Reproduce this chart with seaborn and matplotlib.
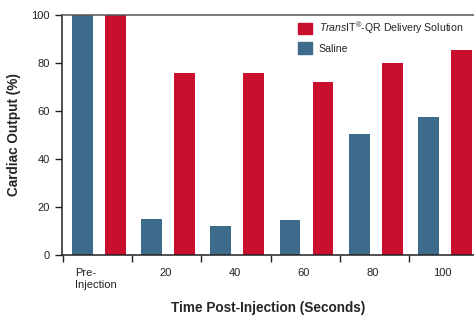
import numpy as np
import pandas as pd
import seaborn as sns
import matplotlib.pyplot as plt
from matplotlib.patches import Patch
from matplotlib.transforms import ScaledTranslation

# values
time_labels = ['Pre-\nInjection', '20', '40', '60', '80', '100']
saline = [100, 15, 12, 14.5, 50.5, 57.5]
transit = [100, 76, 76, 72, 80, 85.5]

saline_name = 'Saline'
transit_name = r'$\it{Trans}$IT$^{\rm ®}$-QR Delivery Solution'

df = pd.DataFrame({
    'time': time_labels * 2,
    'value': saline + transit,
    'group': [saline_name] * len(saline) + [transit_name] * len(transit),
})

sns.set_style('white')
plt.rcParams['font.family'] = ['Liberation Sans', 'DejaVu Sans']
plt.rcParams['mathtext.fontset'] = 'custom'
plt.rcParams['mathtext.rm'] = 'Liberation Sans'
plt.rcParams['mathtext.it'] = 'Liberation Sans:italic'

blue = '#3d6b8c'
red = '#c8102e'

fig = plt.figure(figsize=(4.74, 3.15), dpi=100)
ax = fig.add_axes([62 / 474, 60 / 315, 412 / 474, 240 / 315])

sns.barplot(data=df, x='time', y='value', hue='group',
            hue_order=[saline_name, transit_name],
            palette=[blue, red], width=0.954, gap=0.37,
            saturation=1, linewidth=0, legend=False, ax=ax)

ax.set_xlim(-0.535, 5.42)
ax.set_ylim(0, 100)
ax.set_yticks(np.arange(0, 101, 20))

# group boundary ticks
ax.set_xticks(np.arange(6) - 0.52, minor=True)
ax.tick_params(axis='x', which='minor', direction='out', length=5,
               width=1, color='#222222', bottom=True)
ax.tick_params(axis='x', which='major', length=0, pad=9, labelsize=8,
               labelcolor='#222222')
ax.tick_params(axis='y', direction='out', length=5, width=1,
               color='#222222', left=True, pad=4, labelsize=8,
               labelcolor='#222222')

labels = ax.get_xticklabels()
labels[0].set_horizontalalignment('left')
labels[0].set_multialignment('left')
labels[0].set_linespacing(1.35)
labels[0].set_transform(labels[0].get_transform()
                        + ScaledTranslation(-24 / 100, 0, fig.dpi_scale_trans))
for lab in labels[1:]:
    lab.set_transform(lab.get_transform()
                      + ScaledTranslation(-3 / 100, 0, fig.dpi_scale_trans))

for side in ['left', 'bottom', 'top']:
    ax.spines[side].set_color('#222222')
    ax.spines[side].set_linewidth(1.1)
ax.spines['top'].set_color('#555555')
ax.spines['right'].set_visible(False)

ax.set_xlabel('Time Post-Injection (Seconds)', fontsize=9.8,
              fontweight='bold', labelpad=8)
ax.set_ylabel('Cardiac Output (%)', fontsize=9.8, fontweight='bold',
              labelpad=7)

handles = [Patch(color=red), Patch(color=blue)]
ax.legend(handles, [transit_name, saline_name], loc='upper left',
          bbox_to_anchor=(232 / 412, 1 - 1 / 240), frameon=False,
          fontsize=7.6, handlelength=1.3, handleheight=1.3,
          handletextpad=0.65, labelspacing=0.6, borderaxespad=0)

fig.savefig('out.png', dpi=100)
